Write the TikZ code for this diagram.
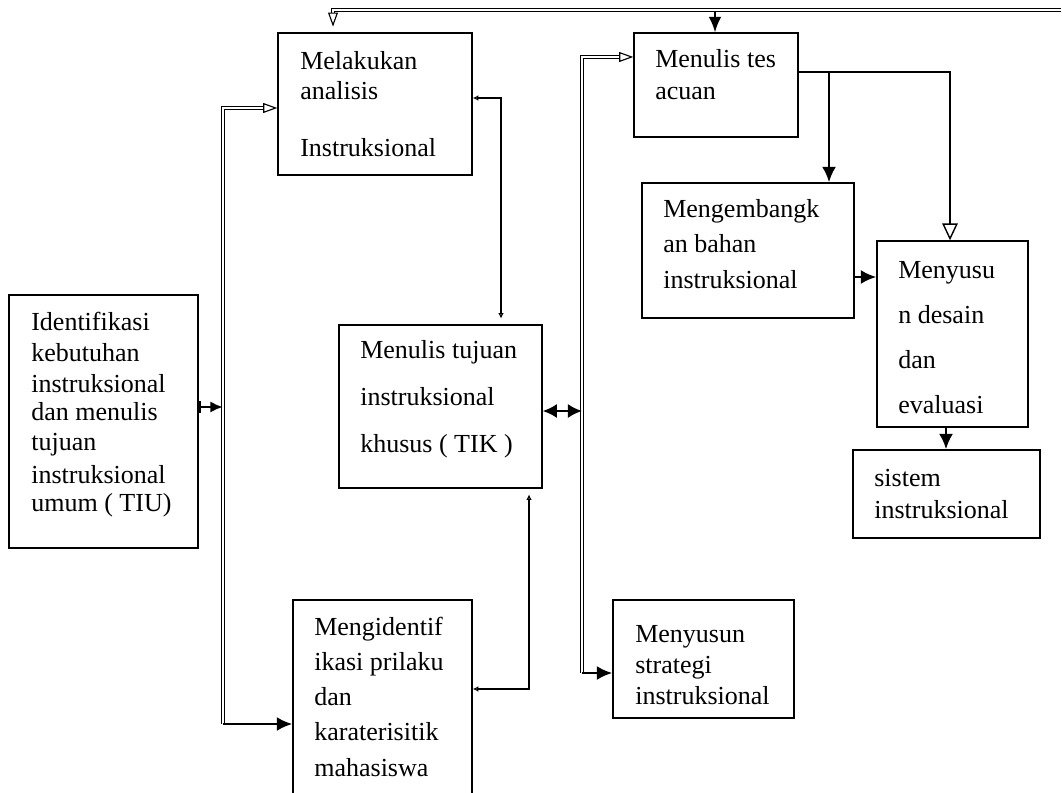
\documentclass[tikz,border=0pt]{standalone}
\usepackage{fontspec}
\setmainfont{Liberation Serif}
\usepackage{tikz}
\usetikzlibrary{arrows.meta,positioning,calc,fit}
\tikzset{
  box/.style={draw,line width=1pt,inner sep=0pt},
  txt/.style={anchor=base west,inner sep=0pt,font=\fontsize{18.5pt}{21pt}\selectfont},
  busline/.style={double,double distance=1.6pt,line width=0.8pt},
  busarr/.style={busline,-{Triangle[open,length=10pt,width=7pt]}},
  heavyarr/.style={-{Latex[length=11pt,width=10pt]},line width=1.8pt},
  medarr/.style={-{Latex[length=11pt,width=9pt]},line width=1.2pt},
  wideopen/.style={-{Triangle[open,length=12pt,width=11pt]},line width=1pt},
  bothway/.style={{Latex[length=10pt,width=10pt]}-{Latex[length=10pt,width=10pt]},line width=1.6pt},
  thinboth/.style={{Latex[open,length=4pt,width=4pt]}-{Latex[open,length=4pt,width=4pt]},line width=1pt}
}
\begin{document}
\begin{tikzpicture}[x=0.025cm,y=-0.025cm]
  \useasboundingbox (0,0) rectangle (1062,793);

  % boxes
  \node[box,fit={(278,33)(472,175)}]  (analisis) {};
  \node[box,fit={(634,33)(798,137)}]  (tes) {};
  \node[box,fit={(642,183)(854,318)}] (bahan) {};
  \node[box,fit={(877,241)(1028,427)}] (desain) {};
  \node[box,fit={(853,450)(1040,538)}] (sistem) {};
  \node[box,fit={(9,295)(198,548)}]   (ident) {};
  \node[box,fit={(339,325)(542,488)}] (tik) {};
  \node[box,fit={(293,600)(472,812)}] (prilaku) {};
  \node[box,fit={(613,600)(794,718)}] (strategi) {};

  % texts
  \foreach \y/\t [count=\i] in {70/Melakukan,100/analisis,157/Instruksional}{
    \node[txt] (analisis-\i) at (300,\y) {\t};
  }
  \foreach \y/\t [count=\i] in {68/Menulis tes,100/acuan}{
    \node[txt] (tes-\i) at (655,\y) {\t};
  }
  \foreach \y/\t [count=\i] in {218/Mengembangk,253/an bahan,288/instruksional}{
    \node[txt] (bahan-\i) at (663,\y) {\t};
  }
  \foreach \y/\t [count=\i] in {278/Menyusu,323/n desain,368/dan,413/evaluasi}{
    \node[txt] (desain-\i) at (898,\y) {\t};
  }
  \foreach \y/\t [count=\i] in {486/sistem,518/instruksional}{
    \node[txt] (sistem-\i) at (874,\y) {\t};
  }
  \foreach \y/\t [count=\i] in {330/Identifikasi,361/kebutuhan,392/instruksional,
      420/dan menulis,450/tujuan,483/instruksional,511/umum ( TIU)}{
    \node[txt] (ident-\i) at (31,\y) {\t};
  }
  \foreach \y/\t [count=\i] in {358/Menulis tujuan,405/instruksional,452/khusus ( TIK )}{
    \node[txt] (tik-\i) at (360,\y) {\t};
  }
  \foreach \y/\t [count=\i] in {635/Mengidentif,670/ikasi prilaku,705/dan,
      740/karaterisitik,776/mahasiswa}{
    \node[txt] (prilaku-\i) at (314,\y) {\t};
  }
  \foreach \y/\t [count=\i] in {642/Menyusun,673/strategi,704/instruksional}{
    \node[txt] (strategi-\i) at (635,\y) {\t};
  }

  % bends of the connectors
  \coordinate (topR)  at (1061,10);
  \coordinate (topL)  at (333,10);
  \coordinate (topTes) at (715,12);
  \coordinate (lbusTop) at (223,108);
  \coordinate (lbusBot) at (223,724);
  \coordinate (rbusTop) at (582,57);
  \coordinate (rbusBot) at (582,673);
  \coordinate (identR) at (223,407);
  \coordinate (tikR)   at (582,411);
  \coordinate (analisisK) at (501,98);
  \coordinate (prilakuK)  at (529,689);
  \coordinate (tesR) at (950,72);
  \coordinate (tesK) at (829,72);
  \coordinate (bahanR) at (877,277);
  \coordinate (desainS) at (946,427);

  % feedback line on top
  \draw[busarr,shorten >=4pt] (topR) -- (topL) -- (topL |- analisis.north);
  \draw[medarr] (topTes) -- (topTes |- tes.north);

  % left bus
  \draw[busarr] (lbusBot) -- (lbusTop) -- (lbusTop -| analisis.west);
  \draw[heavyarr] (lbusBot) -- (lbusBot -| prilaku.west);
  \draw[{Bar[width=8pt]}-{Latex[length=9pt,width=8pt]},line width=1.8pt]
    (identR -| ident.east) -- (identR);

  % right bus
  \draw[busarr] (rbusBot) -- (rbusTop) -- (rbusTop -| tes.west);
  \draw[heavyarr] (rbusBot) -- (rbusBot -| strategi.west);
  \draw[bothway] (tikR -| tik.east) -- (tikR);

  % links between the middle boxes
  \draw[thinboth,shorten >=4pt] (analisisK -| analisis.east) -- (analisisK)
    -- (analisisK |- tik.north);
  \draw[thinboth,shorten <=4pt] (prilakuK |- tik.south) -- (prilakuK)
    -- (prilakuK -| prilaku.east);

  % right column
  \draw[wideopen] (tesR -| tes.east) -- (tesR) -- (tesR |- desain.north);
  \draw[heavyarr] (tesK) -- (tesK |- bahan.north);
  \draw[heavyarr] (bahanR -| bahan.east) -- (bahanR -| desain.west);
  \draw[heavyarr] (desainS) -- (desainS |- sistem.north);
\end{tikzpicture}
\end{document}
